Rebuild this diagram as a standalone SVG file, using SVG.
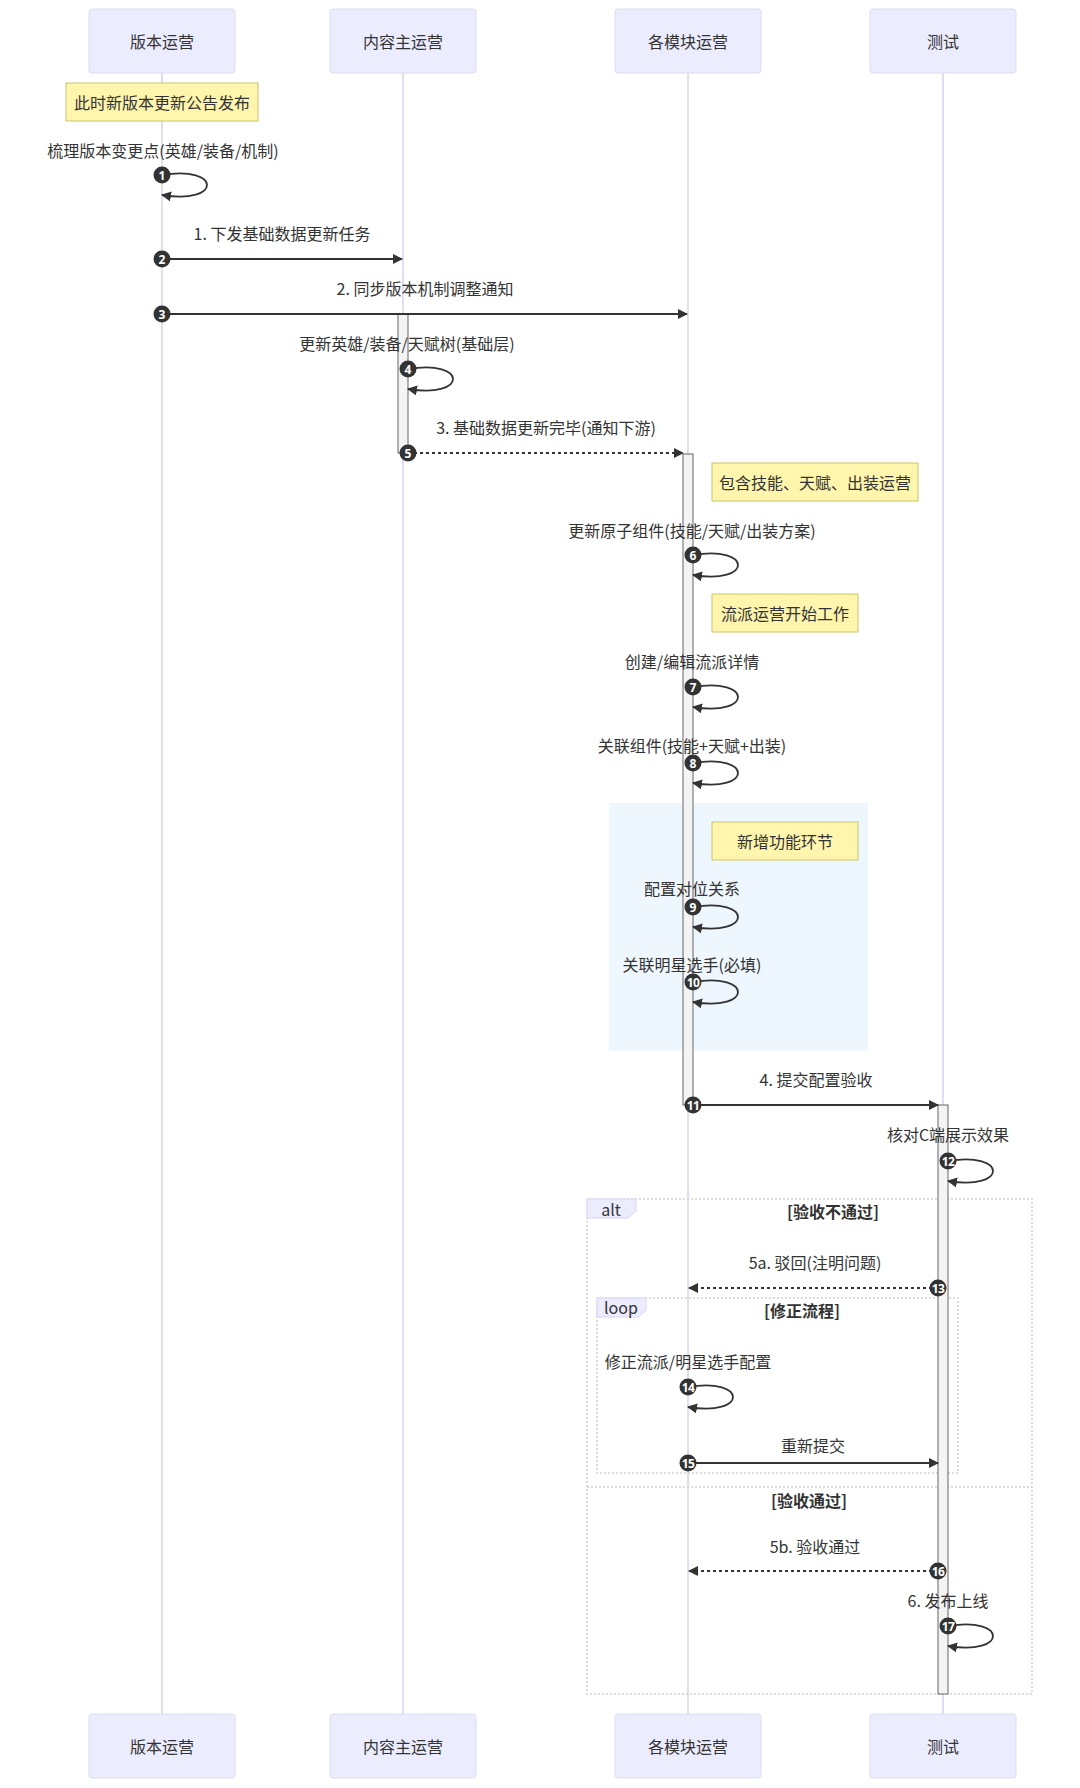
<svg xmlns="http://www.w3.org/2000/svg" width="1080" height="1788" viewBox="0 0 1080 1788">
<defs>
<style>
text{font-family:"Noto Sans CJK SC","Noto Sans",sans-serif;fill:#333;}
.actor rect{fill:#ececff;stroke:#dcdcf2;stroke-width:1;}
.actor text{font-size:16px;text-anchor:middle;dominant-baseline:central;}
.life{stroke:#d6d3ee;stroke-width:1.5;}
.note rect{fill:#fff5ad;stroke:#c9c66a;stroke-width:1;}
.note text{font-size:16px;text-anchor:middle;dominant-baseline:central;}
.msg{font-size:16px;text-anchor:middle;dominant-baseline:central;}
.line{stroke:#333;stroke-width:1.8;fill:none;}
.dash{stroke-dasharray:3,3;}
.act{fill:#f4f4f4;stroke:#666;stroke-width:1;}
.num circle{fill:#333;}
.num text{fill:#fff;font-family:"Noto Sans","DejaVu Sans",sans-serif;font-size:12px;font-weight:bold;text-anchor:middle;dominant-baseline:central;}
.frame{fill:none;stroke:#cfcfdc;stroke-width:1.5;stroke-dasharray:2,2;}
.tab{fill:#ececff;stroke:#dcd3f3;stroke-width:1;}
.tabtext{font-size:16px;text-anchor:middle;dominant-baseline:central;}
.cond{font-size:16px;text-anchor:middle;dominant-baseline:central;font-weight:bold;}
</style>
<marker id="arrow" markerUnits="userSpaceOnUse" markerWidth="12" markerHeight="12" refX="9" refY="5" orient="auto"><path d="M 0 0 L 10 5 L 0 10 z" fill="#333"/></marker>
</defs>
<rect width="1080" height="1788" fill="#fff"/>

<g id="lifelines">
<line class="life" x1="162" y1="73" x2="162" y2="1714"/>
<line class="life" x1="403" y1="73" x2="403" y2="1714"/>
<line class="life" x1="688" y1="73" x2="688" y2="1714"/>
<line class="life" x1="943" y1="73" x2="943" y2="1714"/>
</g>

<g id="highlight"><rect x="609" y="803" width="259" height="248" fill="#eef6fe"/></g>

<g id="frames">
<rect class="frame" x="587" y="1199" width="445" height="495"/>
<polygon class="tab" points="587,1199 636,1199 636,1211 628,1218 587,1218"/>
<text class="tabtext" x="611" y="1209">alt</text>
<text class="cond" x="833" y="1211">[验收不通过]</text>
<line class="frame" x1="587" y1="1487" x2="1032" y2="1487"/>
<text class="cond" x="809" y="1500">[验收通过]</text>
<rect class="frame" x="597" y="1298" width="361" height="175"/>
<polygon class="tab" points="597,1298 646,1298 646,1310 638,1317 597,1317"/>
<text class="tabtext" x="621" y="1307">loop</text>
<text class="cond" x="802" y="1310">[修正流程]</text>
</g>

<g id="activations">
<rect class="act" x="398" y="314" width="10" height="139"/>
<rect class="act" x="683" y="454" width="10" height="651"/>
<rect class="act" x="938" y="1105" width="10" height="589"/>
</g>

<g id="actor-top-1" class="actor"><rect x="89" y="9" width="146" height="64" rx="3"/><text x="162" y="41">版本运营</text></g>
<g id="actor-top-2" class="actor"><rect x="330" y="9" width="146" height="64" rx="3"/><text x="403" y="41">内容主运营</text></g>
<g id="actor-top-3" class="actor"><rect x="615" y="9" width="146" height="64" rx="3"/><text x="688" y="41">各模块运营</text></g>
<g id="actor-top-4" class="actor"><rect x="870" y="9" width="146" height="64" rx="3"/><text x="943" y="41">测试</text></g>

<g id="actor-bottom-1" class="actor"><rect x="89" y="1714" width="146" height="64" rx="3"/><text x="162" y="1746">版本运营</text></g>
<g id="actor-bottom-2" class="actor"><rect x="330" y="1714" width="146" height="64" rx="3"/><text x="403" y="1746">内容主运营</text></g>
<g id="actor-bottom-3" class="actor"><rect x="615" y="1714" width="146" height="64" rx="3"/><text x="688" y="1746">各模块运营</text></g>
<g id="actor-bottom-4" class="actor"><rect x="870" y="1714" width="146" height="64" rx="3"/><text x="943" y="1746">测试</text></g>

<g id="note-1" class="note"><rect x="66" y="83" width="192" height="38"/><text x="162" y="102">此时新版本更新公告发布</text></g>
<g id="note-2" class="note"><rect x="712" y="463" width="206" height="38"/><text x="815" y="482">包含技能、天赋、出装运营</text></g>
<g id="note-3" class="note"><rect x="712" y="594" width="146" height="38"/><text x="785" y="613">流派运营开始工作</text></g>
<g id="note-4" class="note"><rect x="712" y="822" width="146" height="38"/><text x="785" y="841">新增功能环节</text></g>

<g id="connectors">
<path class="line" d="M162,175 C222,165 222,205 162,195" marker-end="url(#arrow)"/>
<line class="line" x1="162" y1="259" x2="402" y2="259" marker-end="url(#arrow)"/>
<line class="line" x1="162" y1="314" x2="687" y2="314" marker-end="url(#arrow)"/>
<path class="line" d="M408,369 C468,359 468,399 408,389" marker-end="url(#arrow)"/>
<line class="line dash" x1="408" y1="453" x2="683" y2="453" marker-end="url(#arrow)"/>
<path class="line" d="M693,555 C753,545 753,585 693,575" marker-end="url(#arrow)"/>
<path class="line" d="M693,687 C753,677 753,717 693,707" marker-end="url(#arrow)"/>
<path class="line" d="M693,763 C753,753 753,793 693,783" marker-end="url(#arrow)"/>
<path class="line" d="M693,907 C753,897 753,937 693,927" marker-end="url(#arrow)"/>
<path class="line" d="M693,982 C753,972 753,1012 693,1002" marker-end="url(#arrow)"/>
<line class="line" x1="693" y1="1105" x2="938" y2="1105" marker-end="url(#arrow)"/>
<path class="line" d="M948,1161 C1008,1151 1008,1191 948,1181" marker-end="url(#arrow)"/>
<line class="line dash" x1="938" y1="1288" x2="689" y2="1288" marker-end="url(#arrow)"/>
<path class="line" d="M688,1387 C748,1377 748,1417 688,1407" marker-end="url(#arrow)"/>
<line class="line" x1="688" y1="1463" x2="938" y2="1463" marker-end="url(#arrow)"/>
<line class="line dash" x1="938" y1="1571" x2="689" y2="1571" marker-end="url(#arrow)"/>
<path class="line" d="M948,1626 C1008,1616 1008,1656 948,1646" marker-end="url(#arrow)"/>
</g>

<g id="labels">
<text class="msg" x="163" y="150">梳理版本变更点(英雄/装备/机制)</text>
<text class="msg" x="282" y="233">1. 下发基础数据更新任务</text>
<text class="msg" x="425" y="288">2. 同步版本机制调整通知</text>
<text class="msg" x="407" y="343">更新英雄/装备/天赋树(基础层)</text>
<text class="msg" x="546" y="427">3. 基础数据更新完毕(通知下游)</text>
<text class="msg" x="692" y="530">更新原子组件(技能/天赋/出装方案)</text>
<text class="msg" x="692" y="661">创建/编辑流派详情</text>
<text class="msg" x="692" y="745">关联组件(技能+天赋+出装)</text>
<text class="msg" x="692" y="888">配置对位关系</text>
<text class="msg" x="692" y="964">关联明星选手(必填)</text>
<text class="msg" x="816" y="1079">4. 提交配置验收</text>
<text class="msg" x="948" y="1134">核对C端展示效果</text>
<text class="msg" x="815" y="1262">5a. 驳回(注明问题)</text>
<text class="msg" x="688" y="1361">修正流派/明星选手配置</text>
<text class="msg" x="813" y="1445">重新提交</text>
<text class="msg" x="815" y="1546">5b. 验收通过</text>
<text class="msg" x="948" y="1600">6. 发布上线</text>
</g>

<g id="sequence-numbers" class="num">
<circle cx="162" cy="175" r="8.5"/><text x="162" y="175">1</text>
<circle cx="162" cy="259" r="8.5"/><text x="162" y="259">2</text>
<circle cx="162" cy="314" r="8.5"/><text x="162" y="314">3</text>
<circle cx="408" cy="369" r="8.5"/><text x="408" y="369">4</text>
<circle cx="408" cy="453" r="8.5"/><text x="408" y="453">5</text>
<circle cx="693" cy="555" r="8.5"/><text x="693" y="555">6</text>
<circle cx="693" cy="687" r="8.5"/><text x="693" y="687">7</text>
<circle cx="693" cy="763" r="8.5"/><text x="693" y="763">8</text>
<circle cx="693" cy="907" r="8.5"/><text x="693" y="907">9</text>
<circle cx="693" cy="982" r="8.5"/><text x="693" y="982" letter-spacing="-0.5">10</text>
<circle cx="693" cy="1105" r="8.5"/><text x="693" y="1105" letter-spacing="-0.5">11</text>
<circle cx="948" cy="1161" r="8.5"/><text x="948" y="1161" letter-spacing="-0.5">12</text>
<circle cx="938" cy="1288" r="8.5"/><text x="938" y="1288" letter-spacing="-0.5">13</text>
<circle cx="688" cy="1387" r="8.5"/><text x="688" y="1387" letter-spacing="-0.5">14</text>
<circle cx="688" cy="1463" r="8.5"/><text x="688" y="1463" letter-spacing="-0.5">15</text>
<circle cx="938" cy="1571" r="8.5"/><text x="938" y="1571" letter-spacing="-0.5">16</text>
<circle cx="948" cy="1626" r="8.5"/><text x="948" y="1626" letter-spacing="-0.5">17</text>
</g>
</svg>
